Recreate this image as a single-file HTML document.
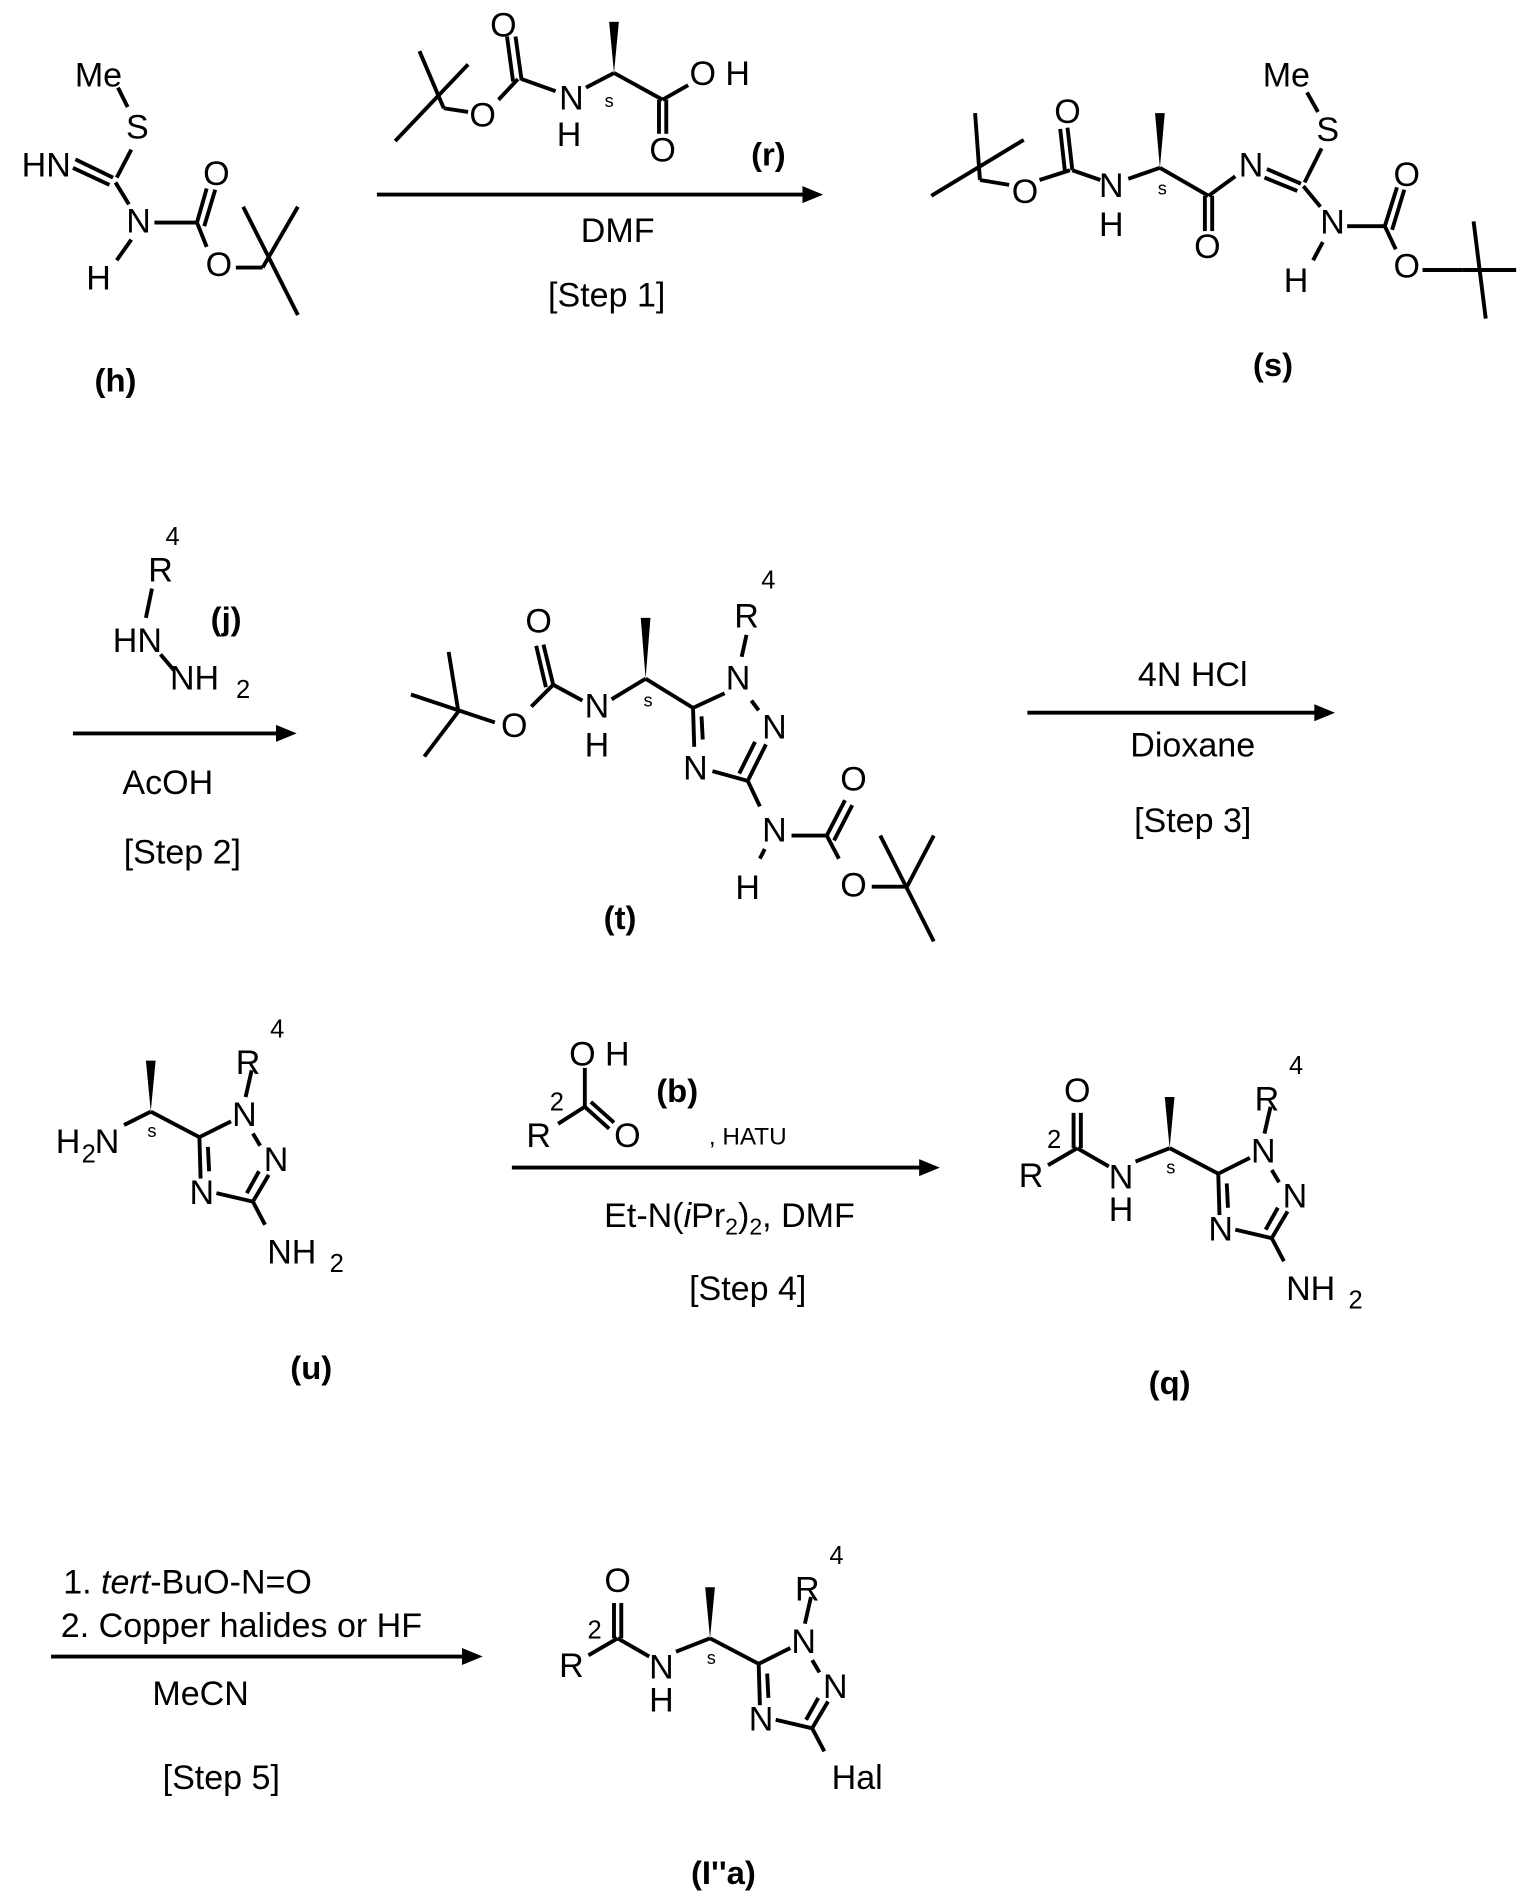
<!DOCTYPE html>
<html><head><meta charset="utf-8"><style>
html,body{margin:0;padding:0;background:#fff;}
svg{display:block;}
text{font-family:"Liberation Sans",Arial,sans-serif;fill:#000;}
.a{font-size:28px;text-anchor:middle;}
.r{font-size:28px;text-anchor:middle;}
.sm{font-size:15px;text-anchor:middle;}
.sup{font-size:21px;text-anchor:middle;}
.lb{font-size:27px;font-weight:bold;text-anchor:middle;}
line,polyline{stroke:#000;stroke-width:3.2;fill:none;}
</style></head><body>
<svg width="1521" height="1901" viewBox="0 0 1251 1563" preserveAspectRatio="none" xmlns="http://www.w3.org/2000/svg">
<defs>
<g id="tri">
  <polygon points="124,914 120,872 128,872" fill="#000"/>
  <line x1="124" y1="914" x2="164" y2="935"/>
  <text class="sm" x="125" y="935">s</text>
  <line x1="164" y1="935" x2="190" y2="922"/>
  <text class="a" x="201" y="926">N</text>
  <line x1="207" y1="880" x2="202" y2="902"/>
  <text class="a" x="204" y="883">R</text>
  <text class="sup" x="228" y="853">4</text>
  <line x1="208" y1="932" x2="214" y2="942"/>
  <text class="a" x="227" y="963">N</text>
  <line x1="221" y1="966" x2="208" y2="988"/>
  <line x1="213" y1="963" x2="203" y2="981"/>
  <line x1="208" y1="988" x2="178" y2="981"/>
  <text class="a" x="166" y="990">N</text>
  <line x1="164" y1="935" x2="165" y2="969"/>
  <line x1="171" y1="943" x2="172" y2="963"/>
  <line x1="208" y1="988" x2="218" y2="1007"/>
</g>
</defs>

<!-- (h) -->
<text class="a" x="81" y="71">Me</text>
<line x1="97" y1="72" x2="105" y2="88"/>
<text class="a" x="113" y="114">S</text>
<line x1="108" y1="123" x2="96" y2="146"/>
<text class="a" x="38" y="145">HN</text>
<line x1="62" y1="131" x2="93" y2="146"/>
<line x1="60" y1="138" x2="90" y2="152"/>
<line x1="95" y1="150" x2="106" y2="168"/>
<text class="a" x="114" y="191">N</text>
<line x1="108" y1="197" x2="96" y2="214"/>
<text class="a" x="81" y="238">H</text>
<line x1="127" y1="183" x2="162" y2="183"/>
<line x1="162" y1="183" x2="170" y2="155"/>
<line x1="168" y1="186" x2="177" y2="156"/>
<text class="a" x="178" y="152">O</text>
<line x1="162" y1="183" x2="170" y2="203"/>
<text class="a" x="180" y="227">O</text>
<line x1="194" y1="220" x2="216" y2="220"/>
<line x1="200" y1="170" x2="245" y2="259"/>
<line x1="216" y1="220" x2="245" y2="170"/>
<text class="lb" x="95" y="322">(h)</text>

<!-- (r) -->
<line x1="345" y1="42" x2="365" y2="89"/>
<line x1="325" y1="116" x2="385" y2="53"/>
<line x1="365" y1="89" x2="385" y2="92"/>
<text class="a" x="397" y="104">O</text>
<line x1="410" y1="82" x2="426" y2="65"/>
<line x1="429" y1="66" x2="424" y2="30"/>
<line x1="422" y1="67" x2="417" y2="30"/>
<text class="a" x="414" y="30">O</text>
<line x1="429" y1="65" x2="457" y2="75"/>
<text class="a" x="470" y="90">N</text>
<text class="a" x="468" y="120">H</text>
<line x1="482" y1="72" x2="505" y2="60"/>
<polygon points="505,60 501,18 509,18" fill="#000"/>
<text class="sm" x="501" y="88">s</text>
<line x1="505" y1="60" x2="545" y2="82"/>
<line x1="542" y1="82" x2="542" y2="110"/>
<line x1="548" y1="82" x2="548" y2="110"/>
<text class="a" x="545" y="133">O</text>
<line x1="545" y1="82" x2="566" y2="70"/>
<text class="a" x="592" y="70">O H</text>
<text class="lb" x="632" y="136">(r)</text>
<line x1="310" y1="160" x2="665" y2="160"/>
<polygon points="677,160 660,153 660,167" fill="#000"/>
<text class="r" x="508" y="199">DMF</text>
<text class="r" x="499" y="252">[Step 1]</text>

<!-- (s) -->
<line x1="802" y1="93" x2="806" y2="148"/>
<line x1="766" y1="161" x2="842" y2="115"/>
<line x1="806" y1="148" x2="830" y2="152"/>
<text class="a" x="843" y="167">O</text>
<line x1="855" y1="148" x2="880" y2="140"/>
<line x1="882" y1="140" x2="878" y2="105"/>
<line x1="876" y1="142" x2="872" y2="106"/>
<text class="a" x="878" y="101">O</text>
<line x1="882" y1="140" x2="905" y2="148"/>
<text class="a" x="914" y="162">N</text>
<text class="a" x="914" y="194">H</text>
<line x1="928" y1="147" x2="954" y2="138"/>
<polygon points="954,138 950,93 958,93" fill="#000"/>
<text class="sm" x="956" y="160">s</text>
<line x1="954" y1="138" x2="994" y2="161"/>
<line x1="991" y1="161" x2="991" y2="190"/>
<line x1="997" y1="161" x2="997" y2="190"/>
<text class="a" x="993" y="212">O</text>
<line x1="994" y1="161" x2="1016" y2="145"/>
<text class="a" x="1029" y="145">N</text>
<line x1="1042" y1="139" x2="1070" y2="151"/>
<line x1="1040" y1="146" x2="1067" y2="157"/>
<line x1="1087" y1="122" x2="1073" y2="150"/>
<text class="a" x="1092" y="116">S</text>
<text class="a" x="1058" y="71">Me</text>
<line x1="1075" y1="76" x2="1084" y2="92"/>
<line x1="1072" y1="153" x2="1086" y2="170"/>
<text class="a" x="1096" y="192">N</text>
<line x1="1088" y1="199" x2="1080" y2="214"/>
<text class="a" x="1066" y="240">H</text>
<line x1="1108" y1="186" x2="1139" y2="186"/>
<line x1="1139" y1="186" x2="1149" y2="154"/>
<line x1="1145" y1="189" x2="1155" y2="156"/>
<text class="a" x="1157" y="153">O</text>
<line x1="1139" y1="186" x2="1148" y2="205"/>
<text class="a" x="1157" y="228">O</text>
<line x1="1170" y1="222" x2="1203" y2="222"/>
<line x1="1203" y1="222" x2="1247" y2="222"/>
<line x1="1212" y1="182" x2="1222" y2="262"/>
<text class="lb" x="1047" y="309">(s)</text>

<!-- Step 2 -->
<text class="a" x="132" y="478">R</text>
<text class="sup" x="142" y="448">4</text>
<line x1="125" y1="484" x2="120" y2="508"/>
<text class="a" x="113" y="536">HN</text>
<line x1="132" y1="538" x2="143" y2="551"/>
<text class="a" x="160" y="567">NH</text>
<text class="sup" x="200" y="574">2</text>
<text class="lb" x="186" y="518">(j)</text>
<line x1="60" y1="603" x2="232" y2="603"/>
<polygon points="244,603 227,596 227,610" fill="#000"/>
<text class="r" x="138" y="653">AcOH</text>
<text class="r" x="150" y="710">[Step 2]</text>

<!-- (t) -->
<line x1="369" y1="536" x2="377" y2="585"/>
<line x1="338" y1="571" x2="407" y2="594"/>
<line x1="349" y1="622" x2="377" y2="585"/>
<text class="a" x="423" y="606">O</text>
<line x1="437" y1="581" x2="455" y2="563"/>
<line x1="455" y1="563" x2="447" y2="530"/>
<line x1="449" y1="565" x2="441" y2="531"/>
<text class="a" x="443" y="520">O</text>
<line x1="455" y1="563" x2="479" y2="576"/>
<text class="a" x="491" y="590">N</text>
<text class="a" x="491" y="622">H</text>
<line x1="503" y1="575" x2="531" y2="558"/>
<polygon points="531,558 527,508 535,508" fill="#000"/>
<text class="sm" x="533" y="581">s</text>
<line x1="531" y1="558" x2="570" y2="582"/>
<line x1="570" y1="582" x2="596" y2="570"/>
<text class="a" x="607" y="567">N</text>
<line x1="614" y1="522" x2="610" y2="540"/>
<text class="a" x="614" y="516">R</text>
<text class="sup" x="632" y="484">4</text>
<line x1="618" y1="576" x2="624" y2="584"/>
<text class="a" x="637" y="607">N</text>
<line x1="630" y1="612" x2="615" y2="642"/>
<line x1="621" y1="610" x2="608" y2="636"/>
<line x1="615" y1="642" x2="586" y2="634"/>
<text class="a" x="572" y="641">N</text>
<line x1="570" y1="582" x2="571" y2="614"/>
<line x1="577" y1="589" x2="578" y2="608"/>
<line x1="615" y1="642" x2="625" y2="663"/>
<text class="a" x="637" y="692">N</text>
<line x1="629" y1="698" x2="625" y2="706"/>
<text class="a" x="615" y="739">H</text>
<line x1="651" y1="687" x2="680" y2="687"/>
<line x1="680" y1="687" x2="695" y2="658"/>
<line x1="686" y1="691" x2="701" y2="662"/>
<text class="a" x="702" y="650">O</text>
<line x1="680" y1="687" x2="690" y2="706"/>
<text class="a" x="702" y="737">O</text>
<line x1="717" y1="729" x2="746" y2="729"/>
<line x1="724" y1="687" x2="768" y2="774"/>
<line x1="746" y1="729" x2="768" y2="687"/>
<text class="lb" x="510" y="764">(t)</text>

<!-- Step 3 -->
<line x1="845" y1="586" x2="1086" y2="586"/>
<polygon points="1098,586 1081,579 1081,593" fill="#000"/>
<text class="r" x="981" y="564">4N HCl</text>
<text class="r" x="981" y="622">Dioxane</text>
<text class="r" x="981" y="684">[Step 3]</text>

<!-- (u) -->
<use href="#tri"/>
<text class="a" x="56" y="948">H</text>
<text class="sup" x="73" y="956">2</text>
<text class="a" x="88" y="948">N</text>
<line x1="102" y1="925" x2="124" y2="914"/>
<text class="a" x="240" y="1039">NH</text>
<text class="sup" x="277" y="1046">2</text>
<text class="lb" x="256" y="1134">(u)</text>

<!-- Step 4 -->
<text class="a" x="493" y="876">O H</text>
<text class="lb" x="557" y="906">(b)</text>
<text class="sup" x="458" y="913">2</text>
<line x1="481" y1="878" x2="481" y2="910"/>
<line x1="481" y1="910" x2="459" y2="924"/>
<line x1="481" y1="910" x2="501" y2="928"/>
<line x1="486" y1="906" x2="505" y2="923"/>
<text class="a" x="443" y="943">R</text>
<text class="a" x="516" y="943">O</text>
<text style="font-size:20px" x="583" y="941">, HATU</text>
<line x1="421" y1="960" x2="760" y2="960"/>
<polygon points="773,960 756,953 756,967" fill="#000"/>
<text class="r" x="600" y="1009">Et-N(<tspan font-style="italic">i</tspan>Pr<tspan font-size="19" dy="6">2</tspan><tspan dy="-6">)</tspan><tspan font-size="19" dy="6">2</tspan><tspan dy="-6">, DMF</tspan></text>
<text class="r" x="615" y="1069">[Step 4]</text>

<!-- (q) -->
<g transform="translate(838,30)"><use href="#tri"/></g>
<text class="a" x="886" y="906">O</text>
<line x1="883" y1="944" x2="883" y2="915"/>
<line x1="889" y1="944" x2="889" y2="915"/>
<line x1="886" y1="944" x2="862" y2="958"/>
<text class="a" x="848" y="976">R</text>
<text class="sup" x="867" y="944">2</text>
<line x1="886" y1="944" x2="912" y2="959"/>
<text class="a" x="922" y="977">N</text>
<text class="a" x="922" y="1004">H</text>
<line x1="934" y1="955" x2="962" y2="944"/>
<text class="a" x="1078" y="1069">NH</text>
<text class="sup" x="1115" y="1076">2</text>
<text class="lb" x="962" y="1146">(q)</text>

<!-- Step 5 -->
<text class="r" x="52" y="1310" style="text-anchor:start">1. <tspan font-style="italic">tert</tspan>-BuO-N=O</text>
<text class="r" x="50" y="1346" style="text-anchor:start">2. Copper halides or HF</text>
<line x1="42" y1="1362" x2="384" y2="1362"/>
<polygon points="397,1362 380,1355 380,1369" fill="#000"/>
<text class="r" x="165" y="1402">MeCN</text>
<text class="r" x="182" y="1471">[Step 5]</text>

<!-- (I''a) -->
<g transform="translate(460,433)"><use href="#tri"/></g>
<g transform="translate(-378,403)">
<text class="a" x="886" y="906">O</text>
<line x1="883" y1="944" x2="883" y2="915"/>
<line x1="889" y1="944" x2="889" y2="915"/>
<line x1="886" y1="944" x2="862" y2="958"/>
<text class="a" x="848" y="976">R</text>
<text class="sup" x="867" y="944">2</text>
<line x1="886" y1="944" x2="912" y2="959"/>
<text class="a" x="922" y="977">N</text>
<text class="a" x="922" y="1004">H</text>
<line x1="934" y1="955" x2="962" y2="944"/>
</g>
<text class="a" x="705" y="1471">Hal</text>
<text class="lb" x="595" y="1549">(I''a)</text>
</svg>
</body></html>
